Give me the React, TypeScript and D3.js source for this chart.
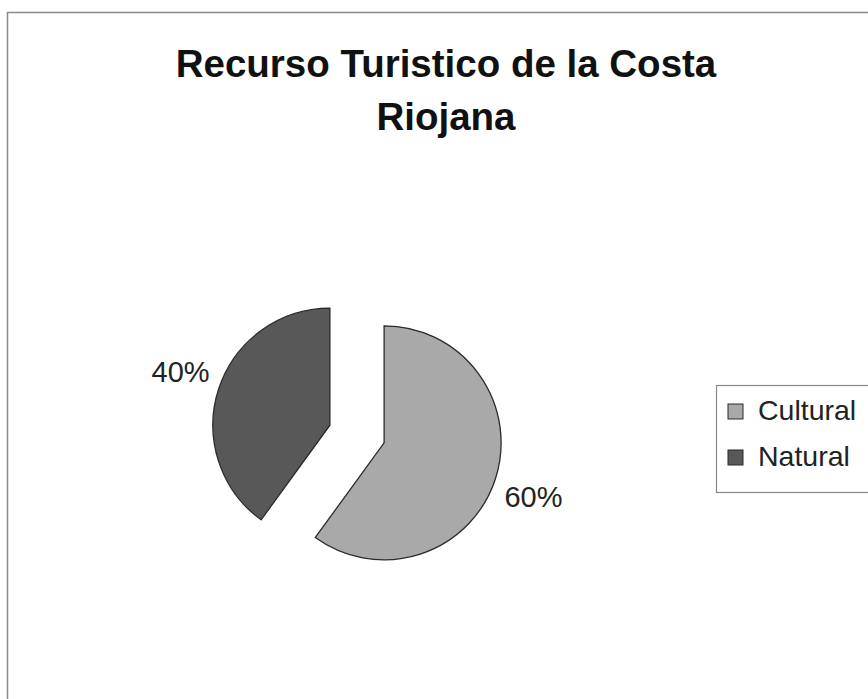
import * as d3 from 'd3';
import React, { useEffect, useRef } from 'react';

const categories = ['Cultural', 'Natural'];
const shares = [60, 40];
const sliceColors = ['#a9a9a9', '#585858'];
const titleLines = ['Recurso Turistico de la Costa', 'Riojana'];

const App: React.FC = () => {
  const ref = useRef<SVGSVGElement | null>(null);
  const width = 868;
  const height = 699;

  useEffect(() => {
    const svg = d3.select(ref.current);
    svg.selectAll('*').remove();
    const font = '"Liberation Sans", Arial, sans-serif';

    // chart frame (right and bottom run off the picture)
    svg.append('rect')
      .attr('x', 7.5).attr('y', 12.5)
      .attr('width', 900).attr('height', 720)
      .attr('fill', 'white')
      .attr('stroke', '#8a8a8a')
      .attr('stroke-width', 1.5);

    svg.append('g')
      .selectAll('text')
      .data(titleLines)
      .join('text')
      .attr('x', 446)
      .attr('y', (_, i) => 77 + i * 53)
      .attr('text-anchor', 'middle')
      .attr('font-family', font)
      .attr('font-weight', 'bold')
      .attr('font-size', 38.5)
      .attr('fill', '#111')
      .text(d => d);

    const data = categories.map((c, i) => ({ name: c, value: shares[i] }));
    const pie = d3.pie<{ name: string; value: number }>().sort(null).value(d => d.value);
    const arcs = pie(data);
    const r = 117;
    const explode = 28.5;
    const cx = 357;
    const cy = 434;
    const arc = d3.arc<d3.PieArcDatum<{ name: string; value: number }>>().innerRadius(0).outerRadius(r);
    const color = d3.scaleOrdinal<string, string>().domain(categories).range(sliceColors);

    const g = svg.append('g').attr('transform', `translate(${cx},${cy})`);
    const slices = g.selectAll('g.slice')
      .data(arcs)
      .join('g')
      .attr('class', 'slice')
      .attr('transform', d => {
        const a = (d.startAngle + d.endAngle) / 2;
        return `translate(${Math.sin(a) * explode},${-Math.cos(a) * explode})`;
      });

    slices.append('path')
      .attr('d', arc)
      .attr('fill', d => color(d.data.name))
      .attr('stroke', '#2a2a2a')
      .attr('stroke-width', 1.3);

    // percentage labels outside the slices
    const labelArc = d3.arc<d3.PieArcDatum<{ name: string; value: number }>>().innerRadius(r + 40).outerRadius(r + 40);
    const total = d3.sum(shares);
    g.selectAll('text.pct')
      .data(arcs)
      .join('text')
      .attr('class', 'pct')
      .attr('transform', d => {
        const [x, y] = labelArc.centroid(d);
        const a = (d.startAngle + d.endAngle) / 2;
        const ox = Math.sin(a) * explode;
        const oy = -Math.cos(a) * explode;
        return `translate(${x + ox},${y * 1.11 + oy})`;
      })
      .attr('text-anchor', 'middle')
      .attr('dy', '0.36em')
      .attr('font-family', font)
      .attr('font-size', 29)
      .attr('fill', '#222')
      .text(d => `${Math.round((d.data.value / total) * 100)}%`);

    // legend
    const lg = svg.append('g').attr('transform', 'translate(716,385)');
    lg.append('rect')
      .attr('x', 0.5).attr('y', 0.5)
      .attr('width', 200).attr('height', 107)
      .attr('fill', 'white')
      .attr('stroke', '#8a8a8a')
      .attr('stroke-width', 1.2);

    const items = lg.selectAll('g.item')
      .data(categories)
      .join('g')
      .attr('class', 'item')
      .attr('transform', (_, i) => `translate(0,${i * 46})`);

    items.append('rect')
      .attr('x', 12).attr('y', 19)
      .attr('width', 15).attr('height', 15)
      .attr('fill', d => color(d))
      .attr('stroke', '#2a2a2a')
      .attr('stroke-width', 1);

    items.append('text')
      .attr('x', 42).attr('y', 35)
      .attr('font-family', font)
      .attr('font-size', 28.5)
      .attr('fill', '#222')
      .text(d => d);
  }, []);

  return (
    <svg
      ref={ref}
      width={width}
      height={height}
      style={{ position: 'absolute', left: 0, top: 0 }}
    />
  );
};

export default App;
